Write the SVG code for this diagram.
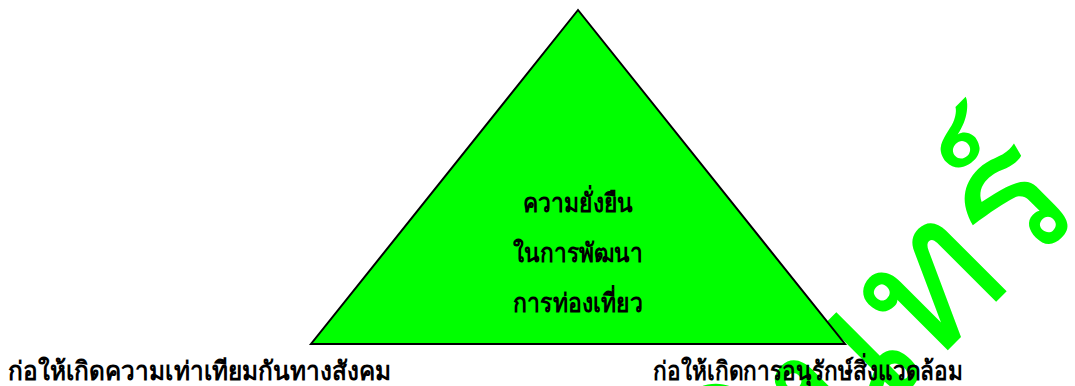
<svg xmlns="http://www.w3.org/2000/svg" width="1075" height="386" viewBox="0 0 1075 386">
<style>
.lbl{font-family:"Liberation Serif","Noto Sans","DejaVu Sans",serif;font-weight:bold;fill:#000;}
.wm{font-family:"Noto Sans","DejaVu Sans",sans-serif;font-weight:normal;fill:#00ff00;}
</style>
<rect width="1075" height="386" fill="#fff"/>
<g id="watermark">
<text class="wm" x="0" y="0" font-size="190" text-anchor="end" transform="translate(1088,210) rotate(-45)">สุรินทร์</text>
</g>
<g id="triangle">
<polygon points="578,10 311,344 845,344" fill="#00ff00" stroke="#000" stroke-width="2"/>
<text class="lbl" x="578" y="212" font-size="26" text-anchor="middle" textLength="110" lengthAdjust="spacingAndGlyphs">ความยั่งยืน</text>
<text class="lbl" x="578" y="262" font-size="26" text-anchor="middle" textLength="130" lengthAdjust="spacingAndGlyphs">ในการพัฒนา</text>
<text class="lbl" x="578" y="312" font-size="26" text-anchor="middle" textLength="130" lengthAdjust="spacingAndGlyphs">การท่องเที่ยว</text>
</g>
<g id="label-left">
<text class="lbl" x="8" y="380" font-size="26" textLength="383" lengthAdjust="spacingAndGlyphs">ก่อให้เกิดความเท่าเทียมกันทางสังคม</text>
</g>
<g id="label-right">
<text class="lbl" x="653" y="380" font-size="26" textLength="310" lengthAdjust="spacingAndGlyphs">ก่อให้เกิดการอนุรักษ์สิ่งแวดล้อม</text>
</g>
<g id="connectors"></g>
</svg>
